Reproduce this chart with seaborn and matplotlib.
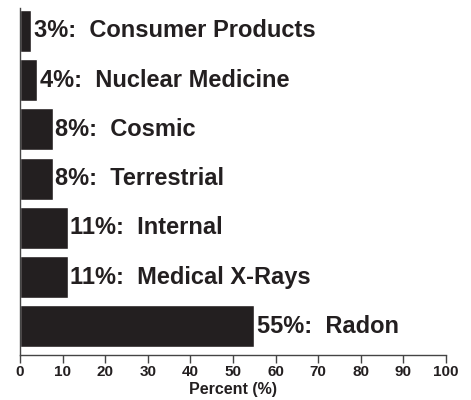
import matplotlib
matplotlib.use("Agg")
import matplotlib.pyplot as plt
import seaborn as sns
import pandas as pd

sources = ["Consumer Products", "Nuclear Medicine", "Cosmic", "Terrestrial",
           "Internal", "Medical X-Rays", "Radon"]
percents = [3, 4, 8, 8, 11, 11, 55]
bar_values = [2.6, 4.0, 7.7, 7.7, 11.2, 11.2, 55.0]
xticks = [0, 10, 20, 30, 40, 50, 60, 70, 80, 90, 100]

sns.set_style("white")
plt.rcParams['font.family'] = ['Liberation Sans', 'DejaVu Sans']

df = pd.DataFrame({"source": sources, "value": bar_values})

fig = plt.figure(figsize=(4.71, 4.00), dpi=100)
ax = fig.add_axes([20/471, 1-355/400, 426/471, 347/400])
sns.barplot(data=df, x="value", y="source", orient="h", color="#231f20",
            saturation=1, width=0.853, ax=ax)
for i, (v, p, s) in enumerate(zip(bar_values, percents, sources)):
    ax.text(v + 0.6, i, f"{p}%:  {s}", va="center", ha="left",
            fontsize=17, fontweight="bold", color="#231f20")

ax.set_xlim(0, 100)
ax.set_ylim(6.58, -0.467)
ax.set_xticks(xticks)
ax.set_xticklabels([str(t) for t in xticks], fontsize=11, fontweight="bold", color="#231f20")
ax.set_yticks([])
ax.set_ylabel("")
ax.set_xlabel("Percent (%)", fontsize=11.5, fontweight="bold", color="#231f20", labelpad=2.5)
for side in ["top", "right"]:
    ax.spines[side].set_visible(False)
for side in ["left", "bottom"]:
    ax.spines[side].set_color("#444444")
    ax.spines[side].set_linewidth(1.0)
ax.tick_params(axis="x", direction="out", length=6, width=1, color="#444444", pad=1, bottom=True)

fig.savefig("out.png", dpi=100)
